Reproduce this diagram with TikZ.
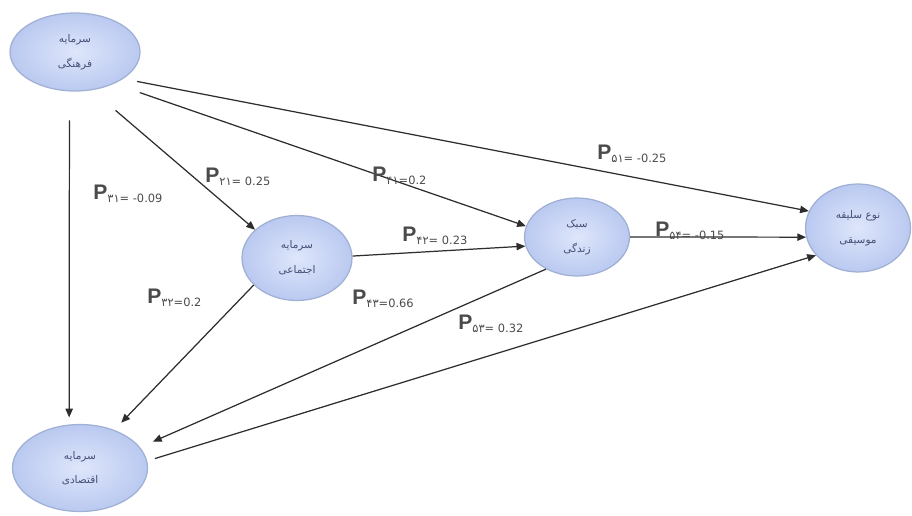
\documentclass[tikz,border=0pt]{standalone}
\usepackage{fontspec}
\setmainfont{Liberation Sans}
\newfontfamily\arabicfont[Script=Arabic]{DejaVu Sans}
\newfontfamily\digfont{DejaVu Sans}
\TeXXeTstate=1
\usetikzlibrary{shapes.geometric,arrows.meta}
\definecolor{nodefillin}{RGB}{222,230,251}
\definecolor{nodefillout}{RGB}{186,201,240}
\definecolor{nodeedge}{RGB}{160,175,212}
\definecolor{nodetext}{RGB}{70,80,120}
\definecolor{labgray}{RGB}{75,75,75}
\definecolor{arrgray}{RGB}{45,45,45}
\newcommand{\fa}[1]{\beginR #1\endR}
\newcommand{\plab}[1]{\textbf{P}\raisebox{-1.2pt}{\digfont\fontsize{6.5}{7}\selectfont #1}}
\tikzset{
  var/.style={ellipse, draw=nodeedge, line width=0.7pt, inner color=nodefillin, outer color=nodefillout,
    inner sep=0pt, align=center, text=nodetext, font=\arabicfont\fontsize{6}{14}\selectfont},
  arr/.style={draw=arrgray, line width=0.7pt, -{Triangle[length=5pt,width=4.2pt]}},
  plabel/.style={anchor=base west, inner sep=0pt, text=labgray, font=\fontsize{12}{14}\selectfont}
}
\begin{document}
\begin{tikzpicture}[x=0.02cm,y=-0.02cm]
\useasboundingbox (0,0) rectangle (912,516);
\fill[white] (0,0) rectangle (912,516);
% nodes
\node[var, minimum width=2.6cm, minimum height=1.56cm] (cult) at (75,52) {\fa{سرمایه}\\\fa{فرهنگی}};
\node[var, minimum width=2.2cm, minimum height=1.7cm] (soc) at (297,258) {\fa{سرمایه}\\\fa{اجتماعی}};
\node[var, minimum width=2.1cm, minimum height=1.56cm] (life) at (577,237) {\fa{سبک}\\\fa{زندگی}};
\node[var, minimum width=2.1cm, minimum height=1.76cm] (music) at (858,228) {\fa{نوع سلیقه}\\\fa{موسیقی}};
\node[var, minimum width=2.7cm, minimum height=1.74cm] (econ) at (80,468) {\fa{سرمایه}\\\fa{اقتصادی}};
% connectors
\draw[arr, shorten <=0.58cm, shorten >=0.14cm] (cult.262) -- (econ.104);
\draw[arr, shorten <=0.62cm] (cult.294) -- (soc.146);
\draw[arr, shorten <=0.54cm] (cult.321) -- (life.168);
\draw[arr, shorten <=0.28cm] (cult.331) -- (music.161);
\draw[arr] (soc.2) -- (life.190);
\draw[arr] (life.0) -- (music.190);
\draw[arr, shorten >=0.2cm] (soc.212) -- (econ.48);
\draw[arr, shorten >=0.28cm] (life.226) -- (econ.19);
\draw[arr, shorten <=0.16cm] (econ.6) -- (music.213);
% labels
\node[plabel] (l31) at (93,200) {\plab{۳۱= -0.09}};
\node[plabel] (l21) at (205,183) {\plab{۲۱= 0.25}};
\node[plabel] (l41) at (372,182) {\plab{۴۱=0.2}};
\node[plabel] (l51) at (597,160) {\plab{۵۱= -0.25}};
\node[plabel] (l42) at (402,242) {\plab{۴۲= 0.23}};
\node[plabel] (l54) at (655,237) {\plab{۵۴= -0.15}};
\node[plabel] (l32) at (147,304) {\plab{۳۲=0.2}};
\node[plabel] (l43) at (352,305) {\plab{۴۳=0.66}};
\node[plabel] (l53) at (458,330) {\plab{۵۳= 0.32}};
\end{tikzpicture}
\end{document}
